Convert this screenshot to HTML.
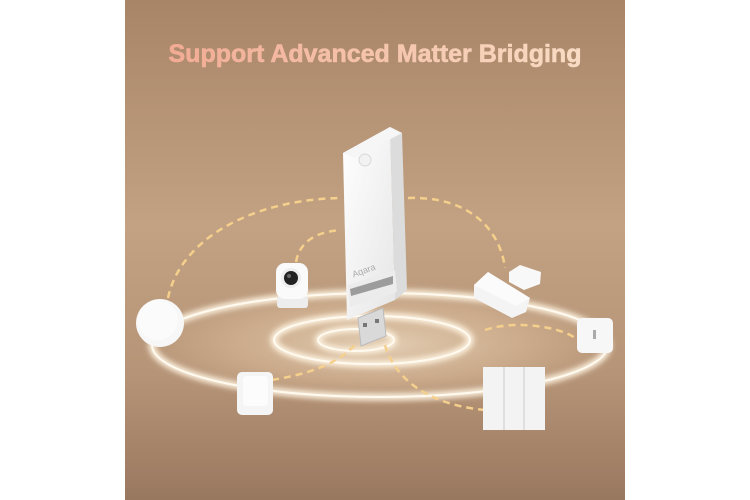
<!DOCTYPE html>
<html><head><meta charset="utf-8"><style>
html,body{margin:0;padding:0;background:#fff;width:750px;height:500px;overflow:hidden}
svg{display:block}
</style></head><body>
<svg width="750" height="500" viewBox="0 0 750 500" xmlns="http://www.w3.org/2000/svg">
<defs>
<linearGradient id="bg" x1="0" y1="0" x2="0" y2="1">
<stop offset="0" stop-color="#a98567"/>
<stop offset="0.45" stop-color="#c2a283"/>
<stop offset="0.75" stop-color="#b69477"/>
<stop offset="1" stop-color="#997860"/>
</linearGradient>
<linearGradient id="tt" x1="0" y1="0" x2="1" y2="0">
<stop offset="0" stop-color="#f2ab94"/>
<stop offset="1" stop-color="#f9dcc4"/>
</linearGradient>
<radialGradient id="glow" cx="0.5" cy="0.5" r="0.5">
<stop offset="0" stop-color="#fff3dc" stop-opacity="0.6"/>
<stop offset="0.6" stop-color="#f7dcb8" stop-opacity="0.3"/>
<stop offset="1" stop-color="#f7dcb8" stop-opacity="0"/>
</radialGradient>
<filter id="bl" x="-20%" y="-50%" width="140%" height="200%"><feGaussianBlur stdDeviation="3"/></filter>
<linearGradient id="dev" x1="0" y1="0" x2="1" y2="1">
<stop offset="0" stop-color="#ffffff"/><stop offset="1" stop-color="#e6e6e6"/>
</linearGradient>
</defs>
<rect x="125" y="0" width="500" height="500" fill="url(#bg)"/>
<text x="375" y="62" text-anchor="middle" font-family="Liberation Sans, sans-serif" font-weight="bold" font-size="25" fill="url(#tt)" stroke="url(#tt)" stroke-width="0.6">Support Advanced Matter Bridging</text>

<!-- rings -->
<ellipse cx="380" cy="345" rx="235" ry="60" fill="url(#glow)"/>
<ellipse cx="380" cy="345" rx="228" ry="52" fill="none" stroke="#fff4e2" stroke-width="7" filter="url(#bl)"/>
<ellipse cx="380" cy="345" rx="228" ry="52" fill="none" stroke="#fffaf0" stroke-width="2"/>
<ellipse cx="372" cy="340" rx="98" ry="24" fill="none" stroke="#fff4e2" stroke-width="7" filter="url(#bl)"/>
<ellipse cx="372" cy="340" rx="98" ry="24" fill="none" stroke="#fffaf0" stroke-width="2"/>
<ellipse cx="356" cy="340" rx="38" ry="11" fill="none" stroke="#fff4e2" stroke-width="6" filter="url(#bl)"/>
<ellipse cx="356" cy="340" rx="38" ry="11" fill="none" stroke="#fffaf0" stroke-width="2"/>

<!-- dashed links -->
<g fill="none" stroke="#f5cf8c" stroke-width="2.5" stroke-dasharray="7,5">
<path d="M168 298 C180 240 250 200 340 198"/>
<path d="M408 198 C470 196 500 230 505 268"/>
<path d="M296 262 C300 240 318 232 340 230"/>
<path d="M272 380 C320 372 340 360 355 345"/>
<path d="M385 345 C395 380 430 405 485 410"/>
<path d="M485 330 C520 318 570 330 577 340"/>
</g>

<!-- dongle -->
<polygon points="390,127 402,133 407,290 395,300" fill="#dcdcdc"/>
<polygon points="343,153 390,127 395,300 347,320" fill="url(#dev)"/>
<polygon points="343,153 390,127 402,133 355,158" fill="#f6f6f6"/>
<circle cx="365" cy="160" r="6" fill="#f2f2f2" stroke="#d8d8d8" stroke-width="1"/>
<text x="352" y="275" font-family="Liberation Sans, sans-serif" font-size="9" fill="#aaa" transform="rotate(-20 360 272)">Aqara</text>
<polygon points="348,285 395,270 397,292 350,307" fill="#ececec"/>
<polygon points="350,289 393,276 393,284 351,296" fill="#9c9c9c"/>
<polygon points="358,318 383,308 386,336 361,346" fill="#d9d9d9" stroke="#bbb" stroke-width="1"/>
<rect x="363" y="323" width="4" height="4" fill="#777"/>
<rect x="375" y="319" width="4" height="4" fill="#777"/>

<!-- round button -->
<circle cx="160" cy="323" r="24" fill="#f7f7f7"/>
<circle cx="158" cy="320" r="20" fill="#fbfbfb"/>

<!-- camera -->
<rect x="277" y="296" width="31" height="12" rx="3" fill="#ededed"/>
<rect x="276" y="263" width="32" height="36" rx="9" fill="#fafafa"/>
<circle cx="291" cy="278" r="10" fill="#eee"/>
<circle cx="291" cy="278" r="7" fill="#222"/>
<circle cx="289" cy="276" r="2" fill="#666"/>

<!-- motion sensor -->
<rect x="237" y="372" width="36" height="43" rx="5" fill="#f5f5f5"/>
<rect x="243" y="376" width="25" height="30" rx="3" fill="#fcfcfc"/>

<!-- door sensor -->
<polygon points="474,285 488,272 530,298 526,312 512,318 474,298" fill="#f4f4f4"/>
<polygon points="474,285 488,272 530,298 516,306" fill="#fbfbfb"/>
<polygon points="509,272 520,265 541,272 540,284 524,290 509,282" fill="#f8f8f8"/>

<!-- temp sensor -->
<rect x="577" y="318" width="36" height="35" rx="5" fill="#f7f7f7"/>
<rect x="593" y="330" width="3" height="9" fill="#aaa"/>

<!-- switch -->
<rect x="483" y="367" width="62" height="63" fill="#f3f3f3"/>
<line x1="504" y1="367" x2="504" y2="430" stroke="#d8d8d8" stroke-width="1.5"/>
<line x1="524" y1="367" x2="524" y2="430" stroke="#d8d8d8" stroke-width="1.5"/>
</svg>
</body></html>
